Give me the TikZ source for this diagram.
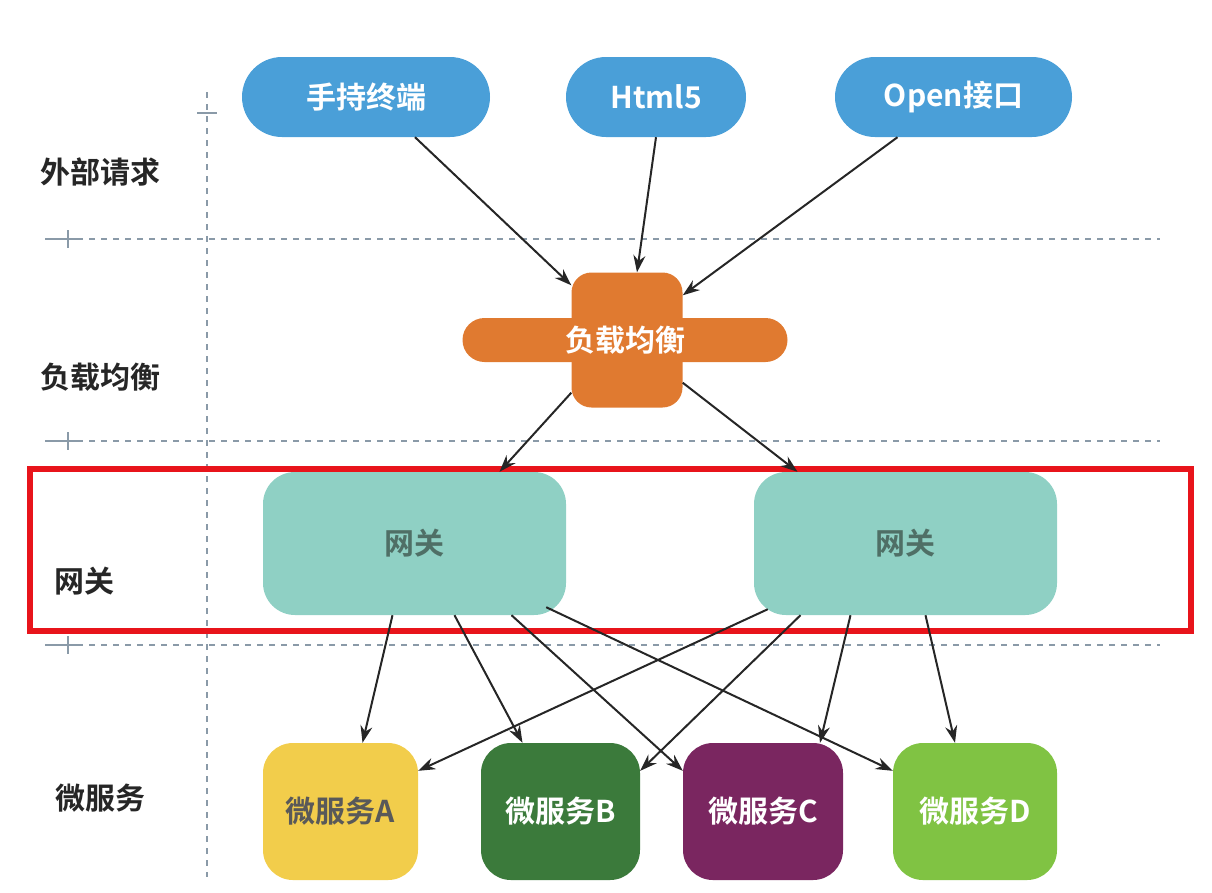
\documentclass[tikz,border=0pt]{standalone}
\usepackage{fontspec}
\newfontfamily\cjk[BoldFont={Noto Sans CJK SC Bold}]{Noto Sans CJK SC}
\usetikzlibrary{arrows.meta,shapes.misc}
\definecolor{pillblue}{HTML}{4A9FD8}
\definecolor{lborange}{HTML}{E07A30}
\definecolor{gwteal}{HTML}{8FD0C4}
\definecolor{gwtext}{HTML}{4F6F66}
\definecolor{msyellow}{HTML}{F2CD4B}
\definecolor{msgreen}{HTML}{3B7A3B}
\definecolor{mspurple}{HTML}{7A2660}
\definecolor{mslime}{HTML}{80C343}
\definecolor{framered}{HTML}{E8141B}
\definecolor{gridgray}{HTML}{8A9AA8}
\begin{document}
\begin{tikzpicture}[x=1pt,y=-1pt,
  every node/.style={font=\cjk\bfseries\fontsize{30}{36}\selectfont,inner sep=0pt},
  pill/.style={rounded rectangle,fill=pillblue,text=white,minimum height=80pt},
  gw/.style={rounded corners=32pt,fill=gwteal,text=gwtext,minimum width=303pt,minimum height=143pt},
  ms/.style={rounded corners=30pt,minimum height=137pt,text=white},
  lane/.style={anchor=west,text=black!85},
  grid/.style={gridgray,line width=1.5pt,dash pattern=on 6pt off 6pt},
  link/.style={line width=2pt,black!85,-{Stealth[length=17pt,width=12pt]}}]
  \useasboundingbox (0,0) rectangle (1212,892);
  % lanes
  \draw[grid] (207,92) -- (207,877);
  \draw[gridgray,line width=1.5pt] (197,113) -- (217,113);
  \foreach \y in {239,441,645} {
    \draw[grid] (77,\y) -- (1160,\y);
    \draw[gridgray,line width=1.5pt] (45,\y) -- (77,\y) (68,\y-9) -- (68,\y+9);
  }
  \node[lane] (lext) at (40,172) {外部请求};
  \node[lane] (llb) at (40,377) {负载均衡};
  \node[lane] (lgw) at (54,581) {网关};
  \node[lane] (lms) at (55,798) {微服务};
  % requests
  \node[pill,minimum width=248pt] (hand) at (366,97) {手持终端};
  \node[pill,minimum width=180pt] (html) at (656,97) {Html5};
  \node[pill,minimum width=237pt] (open) at (953.5,97) {Open接口};
  % load balancer
  \node[rounded corners=20pt,fill=lborange,minimum width=111pt,minimum height=135pt] (lb) at (627,340) {};
  \node[rounded rectangle,fill=lborange,text=white,minimum width=325pt,minimum height=44pt] (lbbar) at (625,340) {负载均衡};
  % gateways
  \draw[framered,line width=6pt] (30,469) rectangle (1191,631);
  \node[gw] (gw1) at (414.5,543.5) {网关};
  \node[gw] (gw2) at (905.5,543.5) {网关};
  % services
  \node[ms,fill=msyellow,text=black!65,minimum width=155pt] (msA) at (340.5,811.5) {微服务A};
  \node[ms,fill=msgreen,minimum width=159pt] (msB) at (560.5,811.5) {微服务B};
  \node[ms,fill=mspurple,minimum width=160pt] (msC) at (763,811.5) {微服务C};
  \node[ms,fill=mslime,minimum width=164pt] (msD) at (975,811.5) {微服务D};
  % arrows
  \draw[link] ([xshift=49pt]hand.south) -- ([yshift=-13pt]lb.north west);
  \draw[link] (html.south) -- ([xshift=10pt]lb.north);
  \draw[link] ([xshift=-56pt]open.south) -- ([yshift=-23pt]lb.north east);
  \draw[link] ([yshift=15pt]lb.south west) -- ([xshift=85pt]gw1.north);
  \draw[link] ([yshift=25pt]lb.south east) -- ([xshift=-108pt]gw2.north);
  \draw[link] ([xshift=-22pt]gw1.south) -- ([xshift=22pt]msA.north);
  \draw[link] ([xshift=40pt]gw1.south) -- ([xshift=-38pt]msB.north);
  \draw[link] ([xshift=97pt]gw1.south) -- ([yshift=-28pt]msC.north west);
  \draw[link] ([xshift=-20pt,yshift=8pt]gw1.south east) -- ([yshift=-28pt]msD.north west);
  \draw[link] ([xshift=14pt,yshift=6pt]gw2.south west) -- ([yshift=-28pt]msA.north east);
  \draw[link] ([xshift=-105pt]gw2.south) -- ([yshift=-28pt]msB.north east);
  \draw[link] ([xshift=-55pt]gw2.south) -- ([xshift=57pt]msC.north);
  \draw[link] ([xshift=20pt]gw2.south) -- ([xshift=-20pt]msD.north);
\end{tikzpicture}
\end{document}
